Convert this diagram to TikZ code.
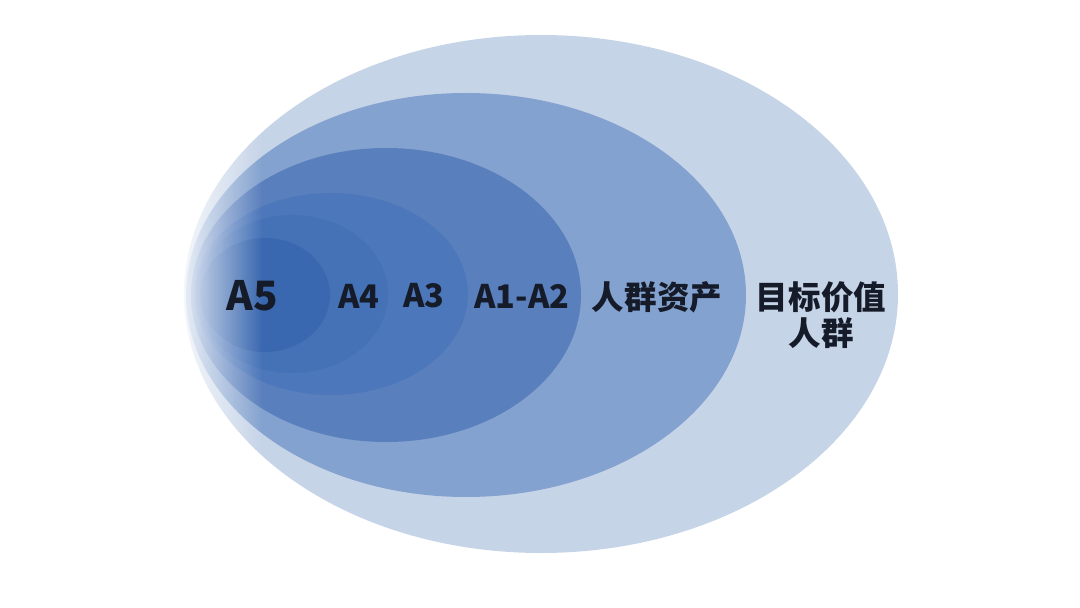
\documentclass[tikz,border=0pt]{standalone}
\usepackage{fontspec}
\newfontfamily\cjk{Noto Sans CJK SC}
\usetikzlibrary{fadings}
\definecolor{ringF}{HTML}{C6D4E8}
\definecolor{ringE}{HTML}{84A2CF}
\definecolor{ringD}{HTML}{5A7FBD}
\definecolor{ringC}{HTML}{4C77BA}
\definecolor{ringB}{HTML}{4572B7}
\definecolor{ringA}{HTML}{3A68B0}
\definecolor{ink}{HTML}{151B28}
\tikzfading[name=fadeleft, left color=transparent!0, right color=transparent!100]

\begin{document}
\begin{tikzpicture}[x=0.02cm,y=-0.02cm,
  lbl/.style={font=\cjk\bfseries\fontsize{18.5}{20.5}\selectfont,text=ink,inner sep=0pt,align=center}]
\useasboundingbox (0,0) rectangle (1080,608);
\fill[ringF] (541,294) ellipse [x radius=357, y radius=259];
\fill[ringE] (466,295) ellipse [x radius=280, y radius=202];
\fill[ringD] (386,295) ellipse [x radius=195, y radius=147];
\fill[ringC] (331,294) ellipse [x radius=137, y radius=101];
\fill[ringB] (292,294) ellipse [x radius=96, y radius=79];
\fill[ringA] (265,295) ellipse [x radius=65, y radius=57];
\fill[white,opacity=0.85,path fading=fadeleft] (180,20) rectangle (262,570);

\node[lbl,font=\cjk\bfseries\fontsize{23}{23}\selectfont] (a5) at (252,296) {A5};
\node[lbl] (a4) at (359,296) {A4};
\node[lbl] (a3) at (424,296) {A3};
\node[lbl] (a12) at (522,296) {A1-A2};
\node[lbl] (pool) at (657,297) {人群资产};
\node[lbl] (target) at (821,315) {目标价值\\人群};
\end{tikzpicture}
\end{document}
